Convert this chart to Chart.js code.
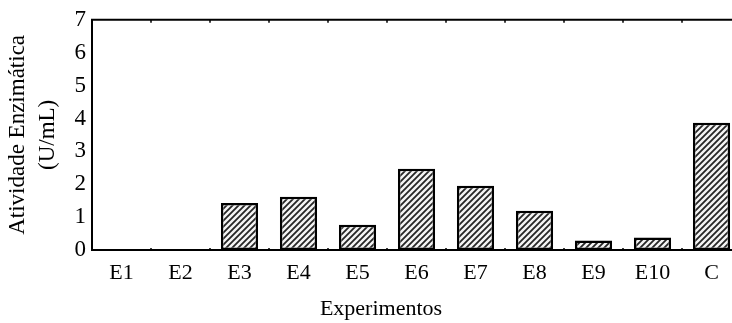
<!DOCTYPE html>
<html>
<head>
<meta charset="utf-8">
<script src="https://cdn.jsdelivr.net/npm/chart.js@4/dist/chart.umd.min.js"></script>
<style>
  html, body { margin: 0; padding: 0; background: #fff; overflow: hidden; }
  #wrap { width: 732px; height: 323px; overflow: hidden; }
  canvas { display: block; }
</style>
</head>
<body>
<div id="wrap"><canvas id="c" width="745" height="323"></canvas></div>
<script>
// Enzyme activity per experiment
const categories = ['E1', 'E2', 'E3', 'E4', 'E5', 'E6', 'E7', 'E8', 'E9', 'E10', 'C'];
const activity = [0, 0, 1.43, 1.62, 0.77, 2.47, 1.95, 1.19, 0.29, 0.38, 3.87];
const yTicks = [0, 1, 2, 3, 4, 5, 6, 7];
const xTitle = 'Experimentos';
const yTitle = ['Atividade Enzimática', '(U/mL)'];

const serif = "'Liberation Serif', 'Times New Roman', serif";

// Diagonal hatch fill for the bars
function hatch() {
  const s = 6;
  const t = document.createElement('canvas');
  t.width = s; t.height = s;
  const g = t.getContext('2d');
  g.fillStyle = '#f4f4f4';
  g.fillRect(0, 0, s, s);
  g.strokeStyle = '#262626';
  g.lineWidth = 1.8;
  g.beginPath();
  g.moveTo(-1, s + 1); g.lineTo(s + 1, -1);
  g.moveTo(-1, 1); g.lineTo(1, -1);
  g.moveTo(s - 1, s + 1); g.lineTo(s + 1, s - 1);
  g.stroke();
  return g.createPattern(t, 'repeat');
}

// Frame lines, inward marks at category boundaries, and the x-axis title
const framePlugin = {
  id: 'frame',
  afterDatasetsDraw(chart) {
    const { ctx, chartArea: a, scales: { x } } = chart;
    ctx.save();
    ctx.strokeStyle = '#000';
    ctx.lineWidth = 2;
    ctx.beginPath();
    ctx.moveTo(a.left, a.top); ctx.lineTo(a.right + 2, a.top);
    ctx.moveTo(a.left, a.top - 1); ctx.lineTo(a.left, a.bottom + 1);
    ctx.moveTo(a.left - 1, a.bottom); ctx.lineTo(a.right + 2, a.bottom);
    ctx.stroke();
    ctx.lineWidth = 1.5;
    ctx.beginPath();
    for (let i = 1; i < categories.length; i++) {
      const px = (x.getPixelForValue(i - 1) + x.getPixelForValue(i)) / 2;
      ctx.moveTo(px, a.top); ctx.lineTo(px, a.top + 3);
      ctx.moveTo(px, a.bottom); ctx.lineTo(px, a.bottom - 2);
    }
    ctx.stroke();
    ctx.fillStyle = '#000';
    ctx.font = '22px ' + serif;
    ctx.textAlign = 'center';
    ctx.textBaseline = 'alphabetic';
    ctx.fillText(xTitle, 381, 315);
    ctx.restore();
  }
};

new Chart(document.getElementById('c'), {
  type: 'bar',
  data: {
    labels: categories,
    datasets: [{
      data: activity,
      backgroundColor: hatch(),
      borderColor: '#000',
      borderWidth: 2.5,
      borderSkipped: false,
      categoryPercentage: 1,
      barPercentage: 0.63
    }]
  },
  options: {
    responsive: false,
    animation: false,
    layout: { padding: { left: 0, top: 18, right: 4, bottom: 0 } },
    plugins: { legend: { display: false }, tooltip: { enabled: false } },
    scales: {
      x: {
        grid: { display: false, drawTicks: false },
        border: { display: false },
        ticks: { color: '#000', font: { family: serif, size: 22 }, padding: 10 },
        afterFit(s) { s.height = 73; }
      },
      y: {
        min: 0, max: 7,
        afterBuildTicks(s) { s.ticks = yTicks.map(v => ({ value: v })); },
        grid: { display: false, drawTicks: false },
        border: { display: false },
        ticks: { color: '#000', font: { family: serif, size: 23 }, padding: 6 },
        title: {
          display: true, text: yTitle, color: '#000',
          font: { family: serif, size: 23, lineHeight: 30 / 23 },
          padding: { top: 3, bottom: 0 }
        },
        afterFit(s) { s.width = 92; }
      }
    }
  },
  plugins: [framePlugin]
});
</script>
</body>
</html>
